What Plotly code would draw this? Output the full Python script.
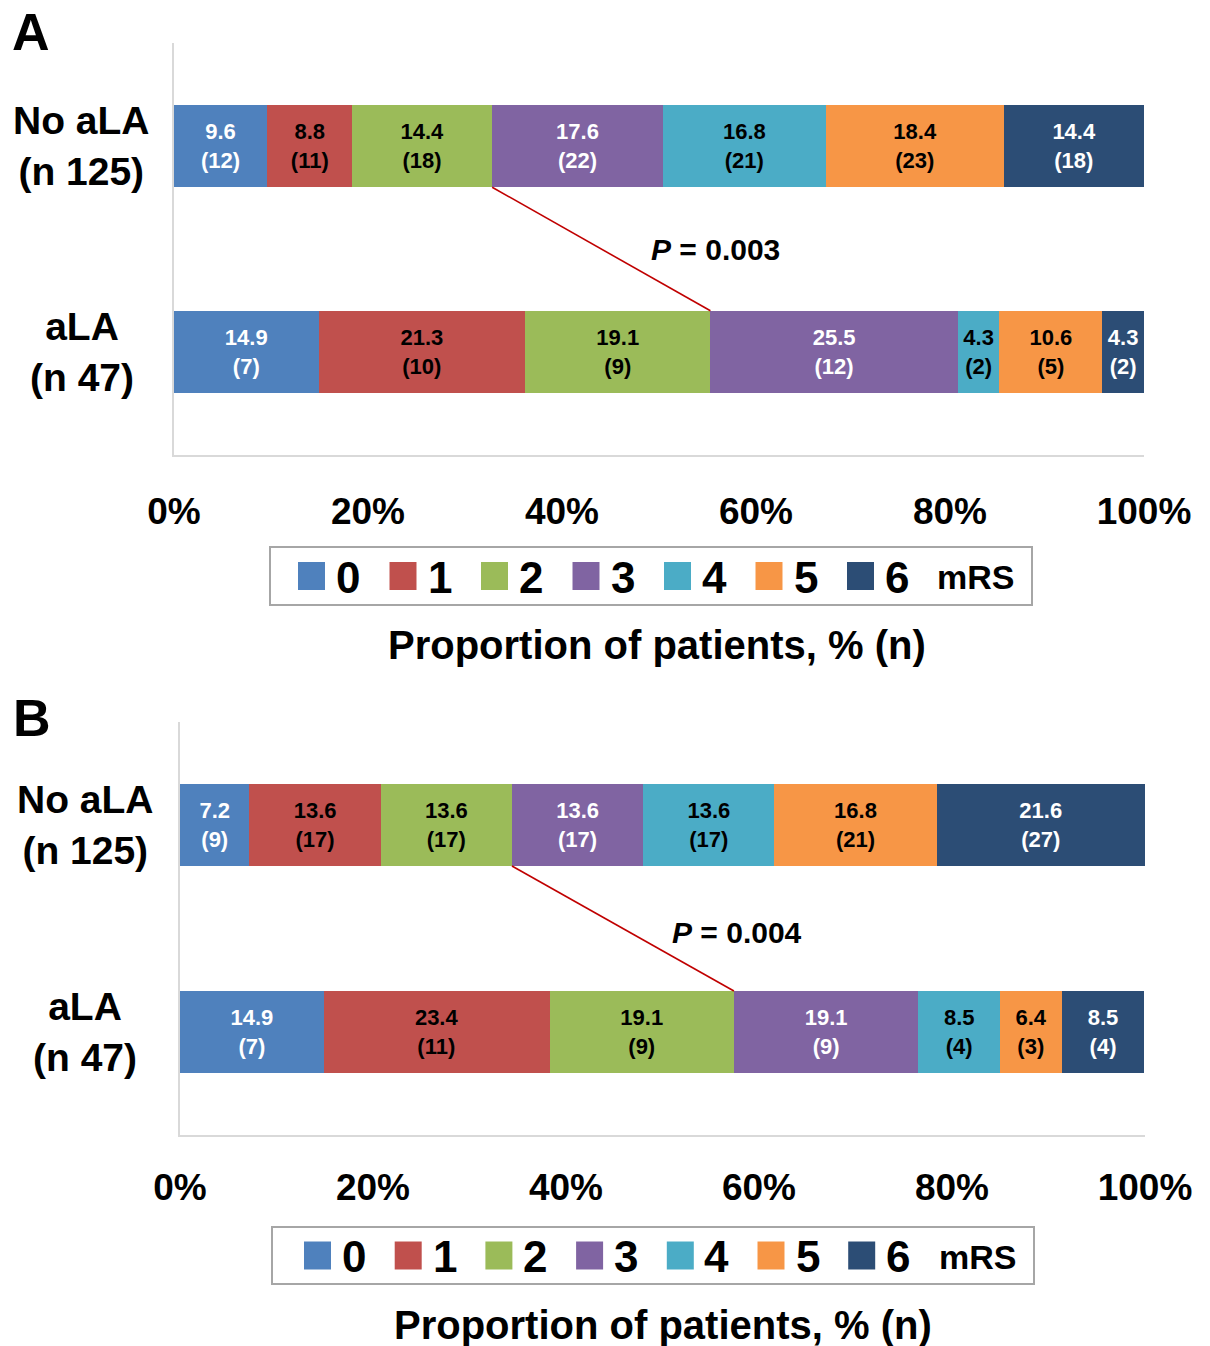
import plotly.graph_objects as go

# ---------------- data ----------------
groups_y = [0, 1]  # 0 = No aLA (top), 1 = aLA (bottom)
group_labels = ["No aLA<br>(n 125)", "aLA<br>(n 47)"]
mrs_levels = ["0", "1", "2", "3", "4", "5", "6"]
colors = ["#4F81BD", "#C0504D", "#9BBB59", "#8064A2", "#4BACC6", "#F79646", "#2C4D75"]
text_colors = ["white", "black", "black", "white", "black", "black", "white"]

a_pct_no = [9.6, 8.8, 14.4, 17.6, 16.8, 18.4, 14.4]
a_n_no = [12, 11, 18, 22, 21, 23, 18]
a_pct_ala = [14.9, 21.3, 19.1, 25.5, 4.3, 10.6, 4.3]
a_n_ala = [7, 10, 9, 12, 2, 5, 2]

b_pct_no = [7.2, 13.6, 13.6, 13.6, 13.6, 16.8, 21.6]
b_n_no = [9, 17, 17, 17, 17, 21, 27]
b_pct_ala = [14.9, 23.4, 19.1, 19.1, 8.5, 6.4, 8.5]
b_n_ala = [7, 11, 9, 9, 4, 3, 4]

p_values = ["0.003", "0.004"]
x_tick_vals = [0, 20, 40, 60, 80, 100]
x_tick_labels = ["0%", "20%", "40%", "60%", "80%", "100%"]
panel_letters = ["A", "B"]
axis_title = "Proportion of patients, % (n)"

# ---------------- layout helpers ----------------
W, H = 1210, 1346
def xp(px):
    return px / W
def yp(py):
    return 1 - py / H

SANS = "Liberation Sans, Arial, sans-serif"

panels = [
    dict(pct_no=a_pct_no, n_no=a_n_no, pct_ala=a_pct_ala, n_ala=a_n_ala,
         xdom=(174, 1144), ydom=(43, 455), bw=0.40, xa="x", ya="y",
         p_pos=(55.8, 0.5), lab_x=82, letter=(31, 32), standoff=23,
         leg_box=(270, 1032, 547, 605), leg_sq0=298, leg_step=91.5, mrs_x=975,
         title_pos=(657, 645)),
    dict(pct_no=b_pct_no, n_no=b_n_no, pct_ala=b_pct_ala, n_ala=b_n_ala,
         xdom=(180, 1145), ydom=(722, 1135), bw=0.395, xa="x2", ya="y2",
         p_pos=(57.7, 0.52), lab_x=85, letter=(32, 718), standoff=19,
         leg_box=(272, 1034, 1227, 1284), leg_sq0=304, leg_step=90.7, mrs_x=977,
         title_pos=(663, 1325)),
]

fig = go.Figure()
annotations = []
shapes = []

for pi, P in enumerate(panels):
    for i, lvl in enumerate(mrs_levels):
        xs = [P["pct_no"][i], P["pct_ala"][i]]
        ns = [P["n_no"][i], P["n_ala"][i]]
        fig.add_trace(go.Bar(
            x=xs, y=groups_y, orientation="h", width=P["bw"],
            marker=dict(color=colors[i], line=dict(width=0)),
            text=[f"<b>{v}<br>({n})</b>" for v, n in zip(xs, ns)],
            textposition="inside", insidetextanchor="middle", textangle=0,
            constraintext="none",
            textfont=dict(family=SANS, size=22, color=text_colors[i]),
            name=lvl, showlegend=False, xaxis=P["xa"], yaxis=P["ya"],
            hoverinfo="skip",
        ))
    # connecting line between cumulative mRS 0-2 boundaries
    cum_no = sum(P["pct_no"][:3])
    cum_ala = sum(P["pct_ala"][:3])
    fig.add_trace(go.Scatter(
        x=[cum_no, cum_ala], y=[0 + P["bw"] / 2, 1 - P["bw"] / 2],
        mode="lines", line=dict(color="#C00000", width=1.6),
        showlegend=False, xaxis=P["xa"], yaxis=P["ya"], hoverinfo="skip",
    ))
    xref = P["xa"]
    yref = P["ya"]
    # P value
    annotations.append(dict(
        x=P["p_pos"][0], y=P["p_pos"][1], xref=xref, yref=yref,
        text=f"<b><i>P</i> = {p_values[pi]}</b>", showarrow=False,
        font=dict(family=SANS, size=30, color="black"),
        xanchor="center", yanchor="middle"))
    # group labels
    for gi, gl in enumerate(group_labels):
        annotations.append(dict(
            x=xp(P["lab_x"]), y=groups_y[gi], xref="paper", yref=yref,
            text=f"<b>{gl}</b>", showarrow=False, align="center",
            font=dict(family=SANS, size=39, color="black"),
            xanchor="center", yanchor="middle"))
    # panel letter
    annotations.append(dict(
        x=xp(P["letter"][0]), y=yp(P["letter"][1]), xref="paper", yref="paper",
        text=f"<b>{panel_letters[pi]}</b>", showarrow=False,
        font=dict(family=SANS, size=52, color="black"),
        xanchor="center", yanchor="middle"))
    # axis title
    annotations.append(dict(
        x=xp(P["title_pos"][0]), y=yp(P["title_pos"][1]), xref="paper", yref="paper",
        text=f"<b>{axis_title}</b>", showarrow=False,
        font=dict(family=SANS, size=40, color="black"),
        xanchor="center", yanchor="middle"))
    # legend box
    bx0, bx1, by0, by1 = P["leg_box"]
    shapes.append(dict(type="rect", xref="paper", yref="paper",
                       x0=xp(bx0), x1=xp(bx1), y0=yp(by1), y1=yp(by0),
                       line=dict(color="#A6A6A6", width=2), fillcolor="white", layer="below"))
    cy = (by0 + by1) / 2
    for i, lvl in enumerate(mrs_levels):
        sx = P["leg_sq0"] + i * P["leg_step"]
        shapes.append(dict(type="rect", xref="paper", yref="paper",
                           x0=xp(sx), x1=xp(sx + 27), y0=yp(cy + 14), y1=yp(cy - 14),
                           line=dict(width=0), fillcolor=colors[i]))
        annotations.append(dict(
            x=xp(sx + 50), y=yp(cy + 1), xref="paper", yref="paper",
            text=f"<b>{lvl}</b>", showarrow=False,
            font=dict(family=SANS, size=44, color="black"),
            xanchor="center", yanchor="middle"))
    annotations.append(dict(
        x=xp(P["mrs_x"]), y=yp(cy + 1), xref="paper", yref="paper",
        text="<b>mRS</b>", showarrow=False,
        font=dict(family=SANS, size=34, color="black"),
        xanchor="center", yanchor="middle"))

axis_common_x = dict(
    range=[0, 100], tickvals=x_tick_vals, ticktext=[f"<b>{t}</b>" for t in x_tick_labels],
    tickfont=dict(family=SANS, size=37, color="black"),
    showgrid=False, zeroline=False, showline=True, linecolor="#D9D9D9", linewidth=2,
    ticks="", fixedrange=True, automargin=False,
)
axis_common_y = dict(
    range=[1.5, -0.5], showticklabels=False, showgrid=False, zeroline=False,
    showline=True, linecolor="#D9D9D9", linewidth=2, ticks="", fixedrange=True,
    automargin=False,
)

P0, P1 = panels
fig.update_layout(
    width=W, height=H, margin=dict(l=0, r=0, t=0, b=0, autoexpand=False),
    paper_bgcolor="white", plot_bgcolor="white",
    barmode="stack", showlegend=False,
    xaxis=dict(domain=[xp(P0["xdom"][0]), xp(P0["xdom"][1])], anchor="y",
               ticklabelstandoff=P0["standoff"], **axis_common_x),
    yaxis=dict(domain=[yp(P0["ydom"][1]), yp(P0["ydom"][0])], anchor="x", **axis_common_y),
    xaxis2=dict(domain=[xp(P1["xdom"][0]), xp(P1["xdom"][1])], anchor="y2",
                ticklabelstandoff=P1["standoff"], **axis_common_x),
    yaxis2=dict(domain=[yp(P1["ydom"][1]), yp(P1["ydom"][0])], anchor="x2", **axis_common_y),
    annotations=annotations, shapes=shapes,
)

fig.write_html("out.html", config={"displayModeBar": False, "staticPlot": False},
               post_script="document.body.style.margin='0px';")
